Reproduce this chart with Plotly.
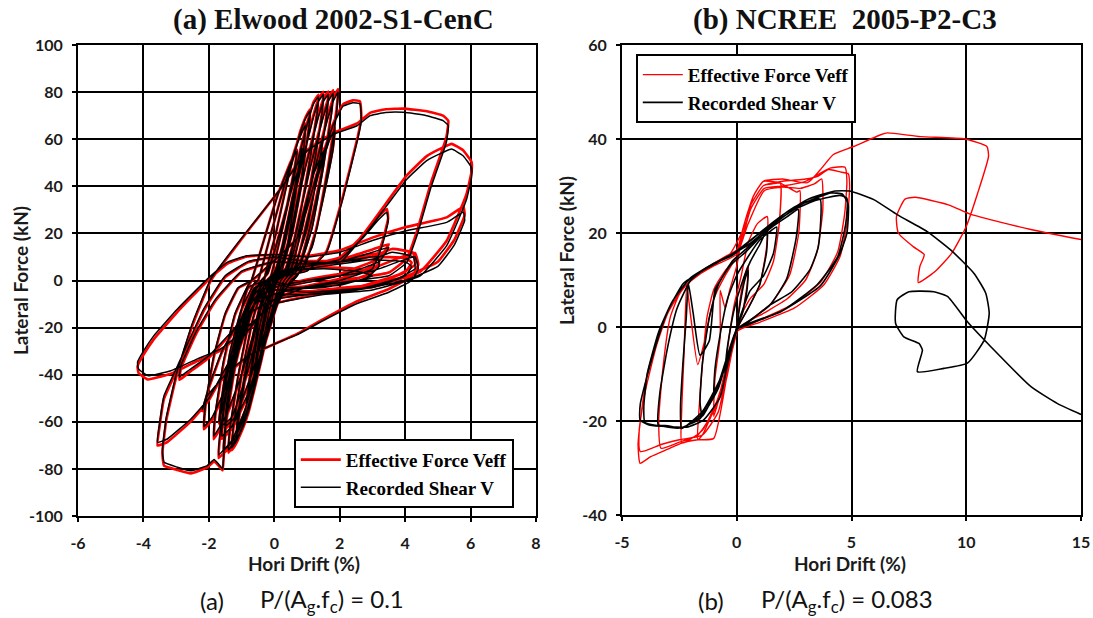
import plotly.graph_objects as go

# ---------------- Panel (a): Elwood 2002-S1-CenC ----------------
drift_a = [
    0, 0.25, 0.4, 0.3, 0.05, -0.2, -0.35, -0.25, -0.02,
    0.3, 0.55, 0.62, 0.45, 0.1, -0.25, -0.55, -0.62, -0.45, -0.1,
    0.35, 0.7, 0.85, 0.75, 0.35, 0.1, -0.3, -0.65, -0.85, -0.75, -0.35, -0.1,
    -0.3, 0.05, 0.45, 0.8, 1.0, 1.1, 1.05, 0.85, 0.5, 0.15, -0.1, -0.3, -0.65, -0.95, -1.15, -1.1, -0.85, -0.5, -0.25,
    -0.1, 0.25, 0.65, 1.0, 1.2, 1.35, 1.3, 1.05, 0.7, 0.35, 0.1, -0.2, -0.55, -0.9, -1.15, -1.1, -0.85, -0.45, -0.15,
    0.05, 0.4, 0.8, 1.15, 1.35, 1.5, 1.45, 1.2, 0.85, 0.5, 0.2, -0.1, -0.5, -0.85, -1.15, -1.3, -1.25, -1.0, -0.65, -0.3,
    0.2, 0.55, 0.95, 1.3, 1.5, 1.65, 1.6, 1.35, 1.0, 0.6, 0.3, 0.0, -0.4, -0.8, -1.1, -1.4, -1.35, -1.1, -0.75, -0.4,
    0.35, 0.7, 1.1, 1.45, 1.65, 1.8, 1.75, 1.5, 1.15, 0.75, 0.4, 0.0, -0.45, -0.9, -1.25, -1.55, -1.5, -1.25, -0.9, -0.5,
    0.5, 0.85, 1.25, 1.6, 1.8, 1.95, 1.9, 1.65, 1.3, 0.9, 0.5, 0.1, -0.4, -0.9, -1.3, -1.7, -1.65, -1.4, -1.05, -0.6,
    0.6, 0.95, 1.35, 1.7, 1.85, 1.8, 1.5, 1.15, 0.7, 0.2, -0.3, -0.8, -1.3, -1.6, -1.55, -1.3, -0.95, -0.5,
    0.4, 0.8, 1.2, 1.5, 1.45, 1.15, 0.8, 0.3, -0.2, -0.7, -1.2, -1.5, -1.45, -1.2, -0.85, -0.4,
    -0.2, 0.2, 0.6, 0.9, 0.85, 0.55, 0.2, -0.3, -0.8, -1.3, -1.65, -1.6, -1.35, -1.0, -0.6,
    -0.5, -0.1, 0.3, 0.7, 0.95, 0.9, 0.6, 0.25, -0.1, -0.5, -1.0, -1.5, -1.85, -1.8, -1.55, -1.2, -0.8,
    -0.7, -0.3, 0.1, 0.5, 0.7, 0.6, 0.3, -0.1, -0.5, -1.0, -1.5, -1.9, -2.15, -2.1, -1.85, -1.5, -1.1, -0.7,
    0.7, 1.3, 1.8, 2.1, 2.4, 2.62, 2.66, 2.55, 2.1, 1.6, 1.0, 0.0, -0.8,
    -1.2, -1.45, -1.55, -1.58, -1.7, -1.84, -2.05, -2.55, -2.96, -3.37, -3.42, -3.3, -3.0, -2.5, -1.94, -1.0, 0.19, 1.0, 1.8,
    2.53, 2.93, 3.4, 3.94, 4.3, 4.66, 5.16, 5.32, 5.26, 5.16, 4.8, 4.36, 4.05, 3.5, 2.5, 1.0, 0.0, -1.0, -2.0, -2.55, -3.27,
    -3.57, -3.5, -3.37, -2.86, -2.16, -1.5, -0.8, 0.0, 1.0, 2.02,
    2.8, 3.44, 4.05, 4.66, 5.16, 5.42, 5.77, 6.03, 6.03, 5.88, 5.68, 5.27, 4.46, 3.0, 1.5, 0.0, -1.0, -1.64, -2.35, -3.16,
    -3.87, -4.15, -4.18, -4.0, -3.68, -2.96, -2.05, -1.44, -0.83, 0.0, 1.0, 2.0,
    3.0, 4.0, 5.27, 5.78, 5.82, 5.5, 5.0, 4.0, 2.5, 1.0, 0.0, -1.0, -1.6, -2.0, -2.2, -2.1, -1.5, -0.8, 0.0, 0.7,
    1.5, 2.5, 3.5, 4.2, 4.4, 4.3, 3.8, 3.0, 2.0, 1.0, 0.0, -0.5, -1.0, -1.4, -1.6, -1.55, -1.2, -0.6, 0.2,
    1.0, 2.0, 2.7, 3.2, 3.44, 3.48, 3.3, 3.0, 2.0, 0.5, -0.5, -1.1, -1.5, -1.7, -1.6, -1.2, -0.6, 0.0,
    1.0, 2.0, 3.0, 3.6, 4.25, 4.3, 3.8, 2.5, 1.0, 0.0, -0.6, -1.1, -1.4, -1.3, -0.9, -0.3,
    0.5, 1.5, 2.5, 3.16, 3.2, 2.8, 1.5, 0.0, -0.4, -0.9, -1.2, -1.05, -0.6, 0.0,
    1.0, 2.0, 3.0, 4.0, 4.2, 4.0, 3.0, 2.0, 1.0, 0.0, -0.5, -0.8, -1.0, -0.8, -0.3, 0.5, 1.5, 2.5, 3.0, 2.0, 0.5, 0.0,
    0.3, -0.5, -1.2, -2.0, -2.6, -2.9, -2.85, -2.4, -1.8, -1.0, 0.0, 1.0, 2.0, 3.0, 3.5, 3.2, 2.0, 0.5, 0.0,
]
shear_a = [
    0, 15, 25, 18, 2, -12, -22, -15, -1,
    18, 35, 39, 26, 3, -14, -34, -38, -24, -3,
    20, 45, 56, 46, 11, 2, -10, -35, -52, -41, -8, -2,
    0, 20, 45, 63, 70, 72, 64, 45, 20, 4, 0, -18, -42, -58, -64, -56, -36, -14, -2,
    2, 22, 47, 66, 75, 78, 70, 48, 22, 5, 1, -16, -40, -60, -68, -60, -38, -14, -1,
    2, 22, 47, 67, 76, 79, 70, 48, 22, 5, 0, -14, -38, -58, -68, -71, -62, -40, -16, -2,
    3, 23, 48, 67, 76, 79, 70, 48, 22, 5, 0, -10, -34, -56, -66, -72, -62, -40, -16, -2,
    3, 23, 48, 67, 76, 79.5, 71, 48, 22, 5, 0, -12, -36, -58, -68, -72, -62, -40, -16, -2,
    4, 24, 48, 67, 76, 80, 71, 48, 22, 5, 0, -10, -32, -55, -68, -74, -64, -42, -18, -3,
    4, 22, 45, 60, 64, 56, 35, 14, 2, -6, -26, -48, -62, -66, -56, -36, -14, -2,
    4, 24, 45, 55, 46, 26, 8, -2, -18, -40, -58, -62, -52, -32, -12, 0,
    3, 22, 42, 52, 42, 20, 3, -12, -38, -58, -62, -52, -30, -12, -1,
    0, 20, 40, 58, 66, 56, 34, 12, 0, -16, -40, -58, -66, -56, -34, -14, -2,
    0, 18, 36, 50, 55, 46, 26, 8, -6, -26, -46, -58, -62, -52, -32, -14, -3, 0,
    18, 45, 66, 74, 75.5, 75, 68, 60, 35, 12, 4, 1, -3,
    -25, -55, -75, -80, -78, -76, -78.6, -80.8, -79.3, -77.2, -72, -58, -40, -18, 0.6, 18, 38.9, 55, 62,
    65.7, 70, 71.3, 71.4, 70.8, 70, 67.9, 65.7, 58.7, 54.4, 40, 19, 7.7, 2, 0, -3, -8, -25, -50, -58.8, -67.3,
    -68.7, -60, -48.9, -33.3, -12.1, 2, 8, 10, 8, 7.8,
    20, 31.8, 43, 50.9, 54.4, 55.8, 53, 48, 43.8, 34.6, 27.5, 14.8, 2, -4, -6, -10, -22, -29, -33.3, -38.3,
    -40.4, -37.5, -34.7, -30, -23.4, -12.1, 0.6, 7.7, 10.5, 11, 10, 12,
    17, 21, 24.7, 29, 25.5, 15, 6, 0, -4, -6, -8, -16, -30, -45, -55, -50, -40, -32, -27, -23,
    -17, -10, -5, 0, 5, 10, 8, 4, 2, 0, -3, -8, -20, -38, -52, -45, -25, -4, 4,
    6, 9, 18, 26, 29, 25, 15, 5, 0, -4, -8, -22, -40, -60, -55, -30, -6, 3,
    5, 7, 9, 12, 10, 5, 1, -4, -6, -6, -10, -28, -48, -42, -20, -2,
    5, 7, 9, 10.2, 6, 1, -3, -4, -6, -18, -35, -28, -10, 2,
    6, 8, 8.8, 8, 5.9, 2, -3, -4, -5, -4, -6, -12, -25, -15, -2, 4, 5, 4, 2, -2, -3, -1,
    2, -6, -20, -32, -38, -41, -36, -22, -8, 4, 8, 7, 8, 12, 14, 8, 2, -2, 0,
]
veff_a = [
    0, 15, 25, 18, 2, -12, -22, -15, -1,
    18, 35, 39.5, 26, 3, -14, -34, -38.5, -24, -3,
    20, 45, 56.5, 46, 11, 2, -10, -35, -52.5, -41, -8, -2,
    0, 20, 45.4, 63.6, 70.6, 72.7, 64.6, 45.4, 20.2, 4, 0, -18.2, -42.4, -58.6, -64.7, -56.6, -36.4, -14.2, -2,
    2, 22.2, 47.5, 66.7, 75.8, 78.9, 70.8, 48.6, 22.4, 5.2, 1, -16.2, -40.4, -60.7, -68.8, -60.7, -38.5, -14.2, -1,
    2, 22.3, 47.6, 67.8, 77, 80.1, 71, 48.8, 22.5, 5.2, 0, -14.1, -38.4, -58.7, -68.9, -72.1, -63, -40.6, -16.3, -2.1,
    3.1, 23.3, 48.6, 67.9, 77.1, 80.2, 71.1, 48.8, 22.6, 5.3, 0.2, -10, -34.3, -56.6, -66.8, -73.1, -63, -40.7, -16.4, -2.2,
    3.2, 23.4, 48.7, 68, 77.2, 80.8, 72.2, 49, 22.7, 5.4, 0.3, -12, -36.4, -58.7, -69, -73.3, -63.2, -41, -16.6, -2.3,
    4.3, 24.5, 48.8, 68.1, 77.3, 81.3, 72.4, 49.1, 22.8, 5.6, 0.3, -9.9, -32.3, -55.6, -69, -75.4, -65.3, -43.1, -18.7, -3.4,
    4.4, 22.6, 45.8, 61, 65.1, 57.1, 35.9, 14.7, 2.4, -5.9, -26.2, -48.6, -63, -67.2, -57.1, -36.9, -14.6, -2.3,
    4.3, 24.5, 45.8, 56, 47, 26.7, 8.5, -1.8, -18.1, -40.4, -58.8, -63, -52.9, -32.7, -12.5, -0.2,
    3, 22.2, 42.4, 52.6, 42.6, 20.3, 3.1, -12.1, -38.5, -58.9, -63.1, -53, -30.8, -12.6, -1.3,
    -0.2, 20, 40.2, 58.5, 66.7, 56.6, 34.4, 12.2, 0, -16.3, -40.6, -59, -67.4, -57.3, -35.1, -14.7, -2.5,
    -0.3, 18, 36.2, 50.4, 55.5, 46.4, 26.2, 8, -6.2, -26.5, -46.8, -59, -63.2, -53.1, -32.8, -14.5, -3.3, -0.3,
    18.3, 45.5, 66.7, 74.8, 76.5, 76.1, 69.1, 61, 35.8, 12.6, 4.4, 1, -3.3,
    -25.5, -55.6, -75.6, -80.6, -78.7, -76.8, -79.4, -81.9, -80.5, -78.6, -73.4, -59.3, -41.2, -19, 0, 17.6, 39, 55.4, 62.7,
    66.7, 71.2, 72.7, 73, 72.5, 71.9, 70, 67.8, 60.8, 56.5, 42, 20.8, 9.3, 3.4, 1, -2.6, -8, -25.4, -50.8, -59.8, -68.6,
    -70.1, -61.4, -50.2, -34.4, -13, 1.4, 7.7, 10, 8.4, 8.6,
    21.1, 33.2, 44.6, 52.8, 56.5, 58, 55.3, 50.4, 46.2, 36.9, 29.8, 16.9, 3.8, -2.8, -5.4, -10, -22.4, -29.7, -34.2, -39.6,
    -42, -39.2, -36.4, -31.6, -24.9, -13.3, -0.2, 7.1, 10.2, 11, 10.4, 12.8,
    18.2, 22.6, 26.8, 31.3, 27.8, 17.2, 8, 1.6, -3, -5.6, -8, -16.4, -30.6, -45.8, -55.9, -50.8, -40.6, -32.3, -27, -22.7,
    -16.4, -9, -3.6, 1.7, 6.8, 11.7, 9.5, 5.2, 2.8, 0.4, -3, -8.2, -20.4, -38.6, -52.6, -45.6, -25.5, -4.2, 4.1,
    6.4, 9.8, 19.1, 27.3, 30.4, 26.4, 16.3, 6.2, 0.8, -3.8, -8.2, -22.4, -40.6, -60.7, -55.6, -30.5, -6.2, 3,
    5.4, 7.8, 10.2, 13.4, 11.7, 6.7, 2.5, -3, -5.6, -6, -10.2, -28.4, -48.6, -42.5, -20.4, -2.1,
    5.2, 7.6, 10, 11.5, 7.3, 2.1, -2.4, -4, -6.2, -18.4, -35.5, -28.4, -10.2, 2,
    6.4, 8.8, 10, 9.6, 7.6, 3.6, -1.8, -3.2, -4.6, -4, -6.2, -12.3, -25.4, -15.3, -2.1, 4.2, 5.6, 5, 3.2, -1.2, -2.8, -1,
    2.1, -6.2, -20.5, -32.8, -39, -42.2, -37.1, -23, -8.7, 3.6, 8, 7.4, 8.8, 13.2, 15.4, 9.3, 2.8, -1.8, 0,
]

# ---------------- Panel (b): NCREE 2005-P2-C3 ----------------
drift_b_v = [
    0, 0.15, 0.35, 0.5, 0.45, 0.25, 0.0, -0.2, -0.4, -0.5, -0.45, -0.3, -0.1,
    0.2, 0.6, 1.0, 1.33, 1.3, 1.0, 0.5, 0.1, -0.3, -0.7, -1.0, -0.95, -0.7, -0.4, 0.0,
    0.5, 1.0, 1.5, 1.74, 1.6, 1.17, 0.58, 0.15, -0.3, -0.95, -1.5, -1.6, -1.5, -1.2, -0.8, -0.3,
    0.4, 1.0, 1.6, 2.2, 2.68, 2.6, 2.18, 1.45, 0.6, 0.0, -0.72, -1.5, -2.4, -2.45, -2.35, -2.2, -2.11, -1.9, -1.6, -1.2,
    -0.95, -0.7, -0.2,
    0.5, 1.3, 2.2, 3.0, 3.63, 3.56, 3.19, 2.4, 1.45, 0.5, 0.0, -0.8, -1.6, -2.4, -3.0, -3.42, -3.35, -3.0, -2.6, -2.0,
    -1.2, -0.4,
    0.5, 1.5, 2.5, 3.5, 4.5, 4.8, 4.75, 4.4, 3.5, 2.0, 0.5, 0.0, -0.8, -1.6, -2.5, -3.4, -4.0, -4.05, -3.9, -3.4,
    -2.8, -2.0, -1.0, -0.2,
    0.5, 1.5, 2.5, 3.5, 4.1, 4.6, 4.86, 4.8, 4.5, 3.65, 1.9, 0.0, -0.72, -1.45, -2.18, -2.9, -3.78, -4.21, -4.2, -3.63,
    -3.05, -2.32, -1.45, -0.14,
    1.17, 1.9, 3.07, 4.23, 4.96, 5.97, 6.99, 8.3, 9.32, 10.34, 10.85, 11.0, 10.78, 10.05, 9.03, 7.87, 8.09, 7.94, 7.28,
    6.92, 6.99, 7.5, 8.59, 9.18, 10.05, 11.07, 12.82, 13.98, 15.0,
]
shear_b = [
    0, 5, 10, 12, 8, 3, 0, -4, -8, -10, -6, -1, 4,
    9, 14, 17.5, 20.7, 16, 9, 4, 0.5, -5, -11, -15, -9, -1, 6, 11,
    15, 18.5, 20.5, 21.3, 15.7, 10.9, 7.7, 2.2, -5, -14, -19, -16, -8, 2, 9, 13,
    16, 19, 21.5, 23.5, 25, 19.3, 10.3, 4.7, 1.5, -0.5, -11, -18, -21.6, -17, -8, 2, 9.3, 3, -6, -3,
    7.9, 10, 14,
    17, 21, 24.5, 26.5, 27.2, 17.2, 12.2, 7.5, 4.7, 1, -0.5, -12, -19, -21.5, -21, -20.8, -14, -4, 4, 10,
    13, 15,
    17.5, 21.5, 25, 27, 28, 27.4, 22, 15, 9, 3.5, 0.5, -0.5, -13, -19.5, -21.5, -21, -20.3, -17, -10, -1,
    5.5, 10.5, 13.5, 15.2,
    18, 22, 25.5, 27.5, 28.5, 28.3, 26, 20, 15.6, 8.8, 3.2, -0.6, -14.9, -19.8, -21.3, -21.2, -20.9, -19.8, -16.3, -5.6,
    2.9, 9.3, 12.1, 15.7,
    20.7, 23.5, 27.1, 28.9, 28.9, 27.1, 23.9, 20.3, 16.4, 11.4, 7.2, 2.9, -2.8, -7.7, -8.8, -9.5, -4.9, -3.5, -2.1,
    0.8, 5.8, 7.5, 7.5, 6.5, 1.1, -4.2, -12.7, -16.3, -18.6,
]
drift_b_eff = [
    0, 0.15, 0.35, 0.5, 0.45, 0.25, 0.0, -0.2, -0.4, -0.5, -0.45, -0.3, -0.1,
    0.2, 0.5, 0.9, 1.33, 1.3, 1.0, 0.5, 0.1, -0.3, -0.7, -1.0, -0.95, -0.72, -0.72, -0.5, -0.3, 0.0,
    0.3, 0.58, 1.17, 1.6, 1.9, 1.85, 1.6, 1.17, 0.58, 0.15, -0.3, -0.95, -1.5, -1.7, -1.65, -1.5, -1.3, -1.0, -0.5, 0.0,
    0.29, 0.72, 1.16, 1.9, 2.61, 2.75, 2.7, 2.3, 1.5, 0.6, 0.0, -0.72, -1.5, -2.39, -2.4, -2.3, -2.18, -2.0, -1.7, -1.4,
    -1.0, -0.5, 0.0,
    0.5, 1.2, 2.0, 2.77, 3.4, 3.7, 3.75, 3.5, 3.0, 2.2, 1.2, 0.0, -0.9, -1.7, -2.5, -3.3, -3.4, -3.2, -2.9, -2.5,
    -2.0, -1.0, 0.0,
    0.6, 1.2, 2.0, 3.0, 4.06, 4.72, 4.8, 4.7, 4.4, 3.65, 2.5, 1.0, 0.0, -1.0, -1.7, -2.4, -3.0, -3.75, -4.21, -4.3,
    -4.2, -3.9, -3.4, -3.0, -2.4, -1.5, -0.5,
    0.0, 0.29, 0.58, 1.17, 2.0, 3.0, 3.5, 4.0, 4.5, 4.86, 4.92, 4.8, 4.5, 3.8, 2.5, 1.0, 0.0, -0.8, -1.5, -2.5,
    -3.3, -4.2, -4.25, -4.0, -3.5, -3.0, -2.3, -1.4, -0.3,
    0.4, 0.72, 1.16, 2.0, 3.08, 3.65, 4.21, 5.09, 6.27, 6.57, 8.0, 9.95, 10.9, 10.97, 10.5, 10.0, 9.37, 8.64, 7.91,
    7.98, 8.17, 7.69, 7.04, 6.96, 7.33, 7.77, 9.22, 10.24, 12.86, 15.0,
]
veff_b = [
    0, 6, 11, 13, 9, 3, 0, -5, -10, -12, -7, -1, 5,
    11, 18, 22, 23.5, 17, 9, 4, 0.5, -7, -14, -19, -11, -2, 7.8, 4, 8, 13,
    21.3, 25.7, 30.1, 30.5, 30.6, 22, 14, 9, 6, 2, -7, -17, -23, -24, -18, -8, 2, 8, 12, 15,
    21.3, 27.8, 31, 30.6, 28.7, 29, 20, 11, 5, 1.5, -0.5, -14, -22, -24.7, -18, -6, 8.9, 2, -8, -3,
    6, 11, 15,
    22, 29, 29.8, 29.5, 30.5, 31.5, 25, 16, 10, 6, 3, -0.5, -17, -23, -24.5, -25.8, -20, -8, 2, 7,
    10, 13, 15.5,
    25, 29.5, 30, 31, 33.8, 34, 31, 24, 16, 9.5, 5, 1.5, -1, -23.7, -24, -24.7, -26, -27.6, -29, -25,
    -20, -10, -2, 3, 8, 12, 15,
    16.4, 21.3, 25.7, 30.1, 31, 31.5, 32, 33.5, 33, 32.6, 30, 22, 15, 9, 4, 1, -1, -18, -23, -24,
    -25, -26.5, -22, -14, -4, 3, 8.5, 12, 15.5,
    22, 27.8, 31, 31.5, 30.7, 33.5, 36.7, 38.4, 40.9, 41.3, 40.5, 40.0, 38.4, 36.3, 28.5, 21.4, 15.7, 11.8, 9.45,
    12.9, 15.4, 17.1, 20, 23.5, 27.2, 27.6, 26, 23.9, 20.7, 18.6,
]

xticks_a = [-6, -4, -2, 0, 2, 4, 6, 8]
yticks_a = [-100, -80, -60, -40, -20, 0, 20, 40, 60, 80, 100]
xticks_b = [-5, 0, 5, 10, 15]
yticks_b = [-40, -20, 0, 20, 40, 60]

W, H = 1093, 618
RED = "#ff0000"
BLK = "#000000"
SANS = "Lato, 'Open Sans', sans-serif"
SERIF = "'Liberation Serif', 'Times New Roman', serif"
TICKFONT = dict(family=SANS, size=16, color="#1a1a1a", weight="bold")
LEGFONT = dict(family=SERIF, size=19, color="#000000", weight="bold")

fig = go.Figure()
fig.add_trace(go.Scatter(x=drift_a, y=veff_a, mode="lines", name="Effective Force Veff",
                         line=dict(color=RED, width=2.6, shape="spline", smoothing=0.35),
                         xaxis="x", yaxis="y", legend="legend"))
fig.add_trace(go.Scatter(x=drift_a, y=shear_a, mode="lines", name="Recorded Shear V",
                         line=dict(color=BLK, width=1.5, shape="spline", smoothing=0.35),
                         xaxis="x", yaxis="y", legend="legend"))
fig.add_trace(go.Scatter(x=drift_b_eff, y=veff_b, mode="lines", name="Effective Force Veff",
                         line=dict(color=RED, width=1.4, shape="spline", smoothing=0.5),
                         xaxis="x2", yaxis="y2", legend="legend2"))
fig.add_trace(go.Scatter(x=drift_b_v, y=shear_b, mode="lines", name="Recorded Shear V",
                         line=dict(color=BLK, width=1.6, shape="spline", smoothing=0.5),
                         xaxis="x2", yaxis="y2", legend="legend2"))


def ax(domain, rng, ticks, anchor):
    return dict(domain=domain, range=rng, tickvals=ticks, ticktext=[str(t) for t in ticks],
                showgrid=True, gridcolor=BLK, gridwidth=1.8, zeroline=False,
                showline=True, linecolor=BLK, linewidth=1.8, mirror=True,
                ticks="outside", ticklen=4, tickwidth=1.8, tickcolor=BLK,
                tickfont=TICKFONT, anchor=anchor, fixedrange=True)


ya = ax([1 - 516 / H, 1 - 45 / H], [-100, 100], yticks_a, "x")
yb = ax([1 - 515 / H, 1 - 45 / H], [-40, 60], yticks_b, "x2")
xa = ax([78 / W, 536 / W], [-6, 8], xticks_a, "y")
xb = ax([622 / W, 1081 / W], [-5, 15], xticks_b, "y2")
for a in (xa, xb):
    a["ticklabelstandoff"] = 8
for a in (ya, yb):
    a["ticklabelstandoff"] = 6

annotations = [
    dict(text="<b>(a) Elwood 2002-S1-CenC</b>", x=333 / W, y=1 - 20 / H,
         font=dict(family=SERIF, size=29, color="#111")),
    dict(text="<b>(b) NCREE  2005-P2-C3</b>", x=845 / W, y=1 - 20 / H,
         font=dict(family=SERIF, size=29, color="#111")),
    dict(text="<b>Lateral Force (kN)</b>", x=20 / W, y=1 - 281 / H, textangle=-90,
         font=dict(family=SANS, size=19, color="#1a1a1a")),
    dict(text="<b>Lateral Force (kN)</b>", x=566 / W, y=1 - 251 / H, textangle=-90,
         font=dict(family=SANS, size=19, color="#1a1a1a")),
    dict(text="<b>Hori Drift (%)</b>", x=304 / W, y=1 - 563 / H,
         font=dict(family=SANS, size=19, color="#1a1a1a")),
    dict(text="<b>Hori Drift (%)</b>", x=850 / W, y=1 - 563 / H,
         font=dict(family=SANS, size=19, color="#1a1a1a")),
    dict(text="(a)", x=212 / W, y=1 - 600 / H,
         font=dict(family=SANS, size=24, color="#111")),
    dict(text="P/(A<sub>g</sub>.f<sub>c</sub>) = 0.1", x=258 / W, y=1 - 600 / H, xanchor="left",
         font=dict(family=SANS, size=24, color="#111")),
    dict(text="(b)", x=711 / W, y=1 - 600 / H,
         font=dict(family=SANS, size=24, color="#111")),
    dict(text="P/(A<sub>g</sub>.f<sub>c</sub>) = 0.083", x=759 / W, y=1 - 600 / H, xanchor="left",
         font=dict(family=SANS, size=24, color="#111")),
]
for a in annotations:
    a.update(xref="paper", yref="paper", showarrow=False)
    a.setdefault("xanchor", "center")
    a.setdefault("yanchor", "middle")

fig.update_layout(
    width=W, height=H,
    margin=dict(l=0, r=0, t=0, b=0, autoexpand=False),
    paper_bgcolor="white", plot_bgcolor="white",
    xaxis=xa, yaxis=ya, xaxis2=xb, yaxis2=yb,
    annotations=annotations,
    legend=dict(x=294 / W, y=1 - 439 / H, xanchor="left", yanchor="top",
                bgcolor="white", bordercolor=BLK, borderwidth=1.8, font=LEGFONT,
                itemwidth=40, tracegroupgap=0),
    legend2=dict(x=636 / W, y=1 - 54 / H, xanchor="left", yanchor="top",
                 bgcolor="white", bordercolor=BLK, borderwidth=1.8, font=LEGFONT,
                 itemwidth=40, tracegroupgap=0),
    showlegend=True,
)

fig.write_html("out.html", config={"displayModeBar": False},
               post_script="document.body.style.margin='0';document.body.style.overflow='hidden';")
